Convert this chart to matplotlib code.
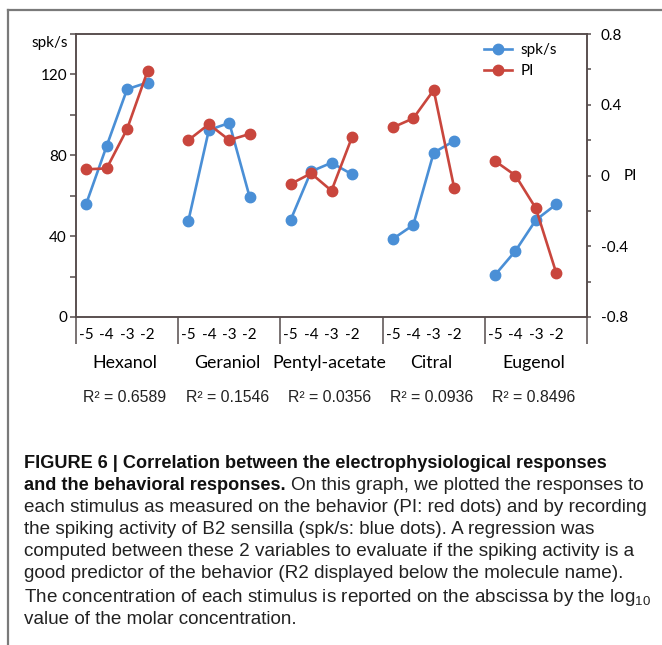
import matplotlib
matplotlib.use("Agg")
import matplotlib.pyplot as plt
import matplotlib.lines as mlines
import numpy as np

plt.rcParams["mathtext.fontset"] = "custom"
plt.rcParams["mathtext.rm"] = "Liberation Sans"
plt.rcParams["mathtext.it"] = "Liberation Sans"
plt.rcParams["mathtext.bf"] = "Liberation Sans:bold"

# ==========================
# Data
# ==========================
odors = ["Hexanol", "Geraniol", "Pentyl-acetate", "Citral", "Eugenol"]
conc_labels = ["-5", "-4", "-3", "-2"]
r2_values = ["0.6589", "0.1546", "0.0356", "0.0936", "0.8496"]

spk = [
    [56, 84.6, 112.7, 116],
    [47.7, 92.5, 96, 59.2],
    [48, 72, 76.3, 70.6],
    [38.6, 45.5, 81.3, 87.1],
    [20.8, 32.7, 48, 55.8],
]
pi = [
    [0.035, 0.04, 0.263, 0.59],
    [0.20, 0.29, 0.20, 0.235],
    [-0.048, 0.012, -0.086, 0.216],
    [0.272, 0.323, 0.483, -0.069],
    [0.082, 0.0, -0.186, -0.553],
]

BLUE = "#4a8fd6"
RED = "#c9463d"
SPINE = "#554b4b"
W, H = 662, 645

fig = plt.figure(figsize=(W / 100, H / 100), dpi=100)
fig.patch.set_facecolor("white")

# outer frame (top and left rule)
fig.add_artist(mlines.Line2D([8 / W, 1], [1 - 9.5 / H, 1 - 9.5 / H], color="#7a7a7a", lw=1.6))
fig.add_artist(mlines.Line2D([8 / W, 8 / W], [0, 1 - 9.5 / H], color="#7a7a7a", lw=1.6))

x0, x1, y0, y1 = 76, 587, 34, 317
ax = fig.add_axes([x0 / W, 1 - y1 / H, (x1 - x0) / W, (y1 - y0) / H])
ax2 = ax.twinx()

# each group uses 5 slots, the 5th one left empty
n_slots = 5
for g in range(len(odors)):
    xs = g * n_slots + np.arange(4) + 0.5
    ax.plot(xs, spk[g], "-o", color=BLUE, lw=1.9, ms=7.5, zorder=3)
    ax2.plot(xs, pi[g], "-o", color=RED, lw=1.9, ms=7.5, zorder=3)

total = n_slots * len(odors)
ax.set_xlim(0, total)
ax.set_ylim(0, 140)
ax2.set_ylim(-0.8, 0.8)

chart_font = "Lato"

ax.set_yticks([0, 40, 80, 120])
ax.set_yticks([20, 60, 100, 140], minor=True)
ax.set_yticklabels(["0", "40", "80", "120"], fontsize=11, family=chart_font)
ax2.set_yticks([-0.8, -0.4, 0, 0.4, 0.8])
ax2.set_yticks([-0.6, -0.2, 0.2, 0.6], minor=True)
ax2.set_yticklabels(["-0.8", "-0.4", "0", "0.4", "0.8"], fontsize=11, family=chart_font)

ax.set_xticks(np.arange(0, total + 1, n_slots))
ax.set_xticklabels([])
ax.tick_params(axis="x", which="major", length=19.5, width=1.1, color=SPINE, direction="out")
ax.tick_params(axis="y", which="both", length=4.5, width=1.1, color=SPINE, pad=2)
ax2.tick_params(axis="y", which="both", length=3, width=1.1, color=SPINE, pad=7)

for a in (ax, ax2):
    for s in a.spines.values():
        s.set_color(SPINE)
        s.set_linewidth(1.1)

# category labels below the axis
for g, name in enumerate(odors):
    for i, c in enumerate(conc_labels):
        ax.text(g * n_slots + i + 0.5, -0.064, c, transform=ax.get_xaxis_transform(),
                ha="center", va="center", fontsize=11, family=chart_font)
    ax.text(g * n_slots + 2.4, -0.163, name, transform=ax.get_xaxis_transform(),
            ha="center", va="center", fontsize=12.8, family=chart_font)
    ax.text(g * n_slots + 2.4, -0.283, "R² = " + r2_values[g], transform=ax.get_xaxis_transform(),
            ha="center", va="center", fontsize=11.4, family="Liberation Sans", color="#222222")

# axis unit labels
fig.text(68 / W, 1 - 43 / H, "spk/s", ha="right", va="center", fontsize=11, family=chart_font)
fig.text(624 / W, 1 - 176 / H, "PI", ha="left", va="center", fontsize=11, family=chart_font)

# legend
h1 = mlines.Line2D([], [], color=BLUE, marker="o", lw=1.9, ms=7.5)
h2 = mlines.Line2D([], [], color=RED, marker="o", lw=1.9, ms=7.5)
ax2.legend([h1, h2], ["spk/s", "PI"], loc="upper left", bbox_to_anchor=(484 / W, 1 - 43 / H),
           bbox_transform=fig.transFigure, frameon=False, handlelength=1.8, handletextpad=0.6,
           labelspacing=0.45, borderpad=0, borderaxespad=0, prop={"family": chart_font, "size": 11})

# caption
cap_x = 24 / W
fs_bold = 13.1
fs = 13.6
cap_font = "Liberation Sans"
fig.text(cap_x, 1 - 463 / H, "FIGURE 6 | Correlation between the electrophysiological responses",
         fontsize=fs_bold, fontweight="bold", family=cap_font, va="center", color="#111111")
t = fig.text(cap_x, 1 - 485 / H, "and the behavioral responses.", fontsize=fs_bold,
             fontweight="bold", family=cap_font, va="center", color="#111111")
fig.canvas.draw()
bb = t.get_window_extent()
fig.text(bb.x1 / W + 5 / W, 1 - 485 / H, "On this graph, we plotted the responses to",
         fontsize=fs, family=cap_font, va="center", color="#222222")
body = [
    "each stimulus as measured on the behavior (PI: red dots) and by recording",
    "the spiking activity of B2 sensilla (spk/s: blue dots). A regression was",
    "computed between these 2 variables to evaluate if the spiking activity is a",
    "good predictor of the behavior (R2 displayed below the molecule name).",
    "The concentration of each stimulus is reported on the abscissa by the log$_{10}$",
    "value of the molar concentration.",
]
ys = [507, 530, 552, 574, 597, 619]
for line, yy in zip(body, ys):
    fig.text(cap_x, 1 - yy / H, line, fontsize=fs, family=cap_font, va="center", color="#222222")

plt.savefig("out.png", dpi=100)
